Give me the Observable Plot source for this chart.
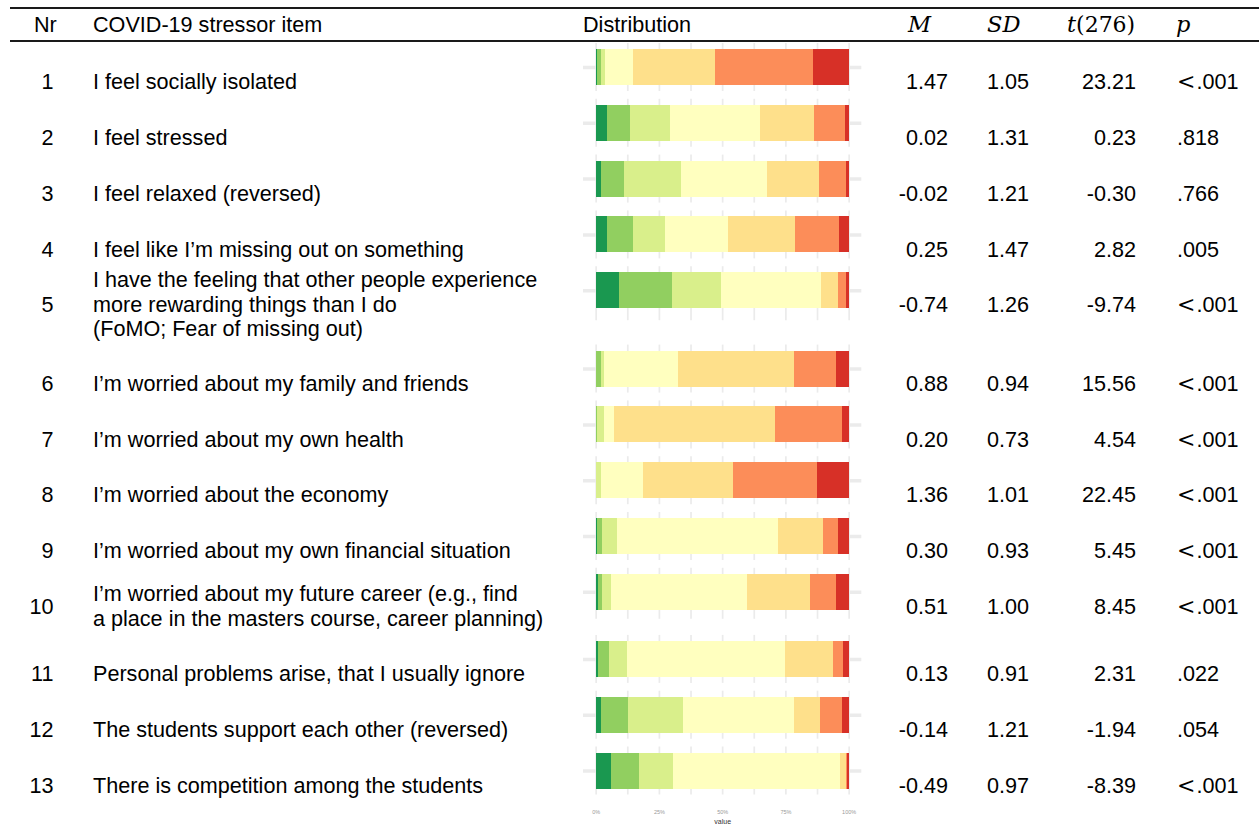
<!DOCTYPE html>
<html><head><meta charset="utf-8">
<script src="https://cdn.jsdelivr.net/npm/d3@7"></script>
<script src="https://cdn.jsdelivr.net/npm/@observablehq/plot@0.6"></script>
<style>
body{margin:0;background:#fff;}
#page{position:relative;width:1259px;height:824px;overflow:hidden;font-family:"Liberation Sans",Arial,sans-serif;font-size:21.6px;color:#000;}
.t{position:absolute;white-space:nowrap;line-height:21.6px;height:21.6px;}
.ml{position:absolute;white-space:pre;line-height:24.5px;}
.rule{position:absolute;left:10px;width:1249px;background:#1a1a1a;}
.math{font-family:"DejaVu Serif",serif;font-style:italic;font-size:22.5px;}
.rm{font-family:"DejaVu Serif",serif;font-style:normal;font-size:22px;}
.lt{font-family:"DejaVu Serif",serif;font-size:22px;margin-right:1px;}
#chart{position:absolute;left:576px;top:0;}
</style></head><body><div id="page"><div id="chart"></div></div>
<script>
// ---------- data ----------
const itemNr = [1,2,3,4,5,6,7,8,9,10,11,12,13];
const items = [
  "I feel socially isolated",
  "I feel stressed",
  "I feel relaxed (reversed)",
  "I feel like I\u2019m missing out on something",
  "I have the feeling that other people experience\nmore rewarding things than I do\n(FoMO; Fear of missing out)",
  "I\u2019m worried about my family and friends",
  "I\u2019m worried about my own health",
  "I\u2019m worried about the economy",
  "I\u2019m worried about my own financial situation",
  "I\u2019m worried about my future career (e.g., find\na place in the masters course, career planning)",
  "Personal problems arise, that I usually ignore",
  "The students support each other (reversed)",
  "There is competition among the students"
];
const meanM = [1.47,0.02,-0.02,0.25,-0.74,0.88,0.20,1.36,0.30,0.51,0.13,-0.14,-0.49];
const sdSD  = [1.05,1.31,1.21,1.47,1.26,0.94,0.73,1.01,0.93,1.00,0.91,1.21,0.97];
const tVal  = [23.21,0.23,-0.30,2.82,-9.74,15.56,4.54,22.45,5.45,8.45,2.31,-1.94,-8.39];
const pVal  = ["<.001",".818",".766",".005","<.001","<.001","<.001","<.001","<.001","<.001",".022",".054","<.001"];
// response levels (green -> red)
const levels = ["-3","-2","-1","0","1","2","3"];
const levelColors = ["#1a9850","#91cf60","#d9ef8b","#ffffbf","#fee08b","#fc8d59","#d73027"];
// percentage of answers per level, per item
const dist = [
  [0.4, 1.6, 1.6, 11.1, 32.4, 38.7, 14.2],
  [4.3, 9.1, 15.8, 35.6, 21.7, 11.9, 1.6],
  [2.0, 9.1, 22.5, 34.0, 20.6, 10.7, 1.2],
  [4.3, 10.3, 13.0, 24.9, 26.1, 17.4, 4.0],
  [9.1, 20.9, 19.4, 39.5, 6.7, 3.2, 1.2],
  [0.3, 1.7, 1.2, 29.2, 45.8, 16.6, 5.1],
  [0.0, 0.7, 2.5, 4.0, 63.6, 26.5, 2.8],
  [0.3, 0.0, 1.7, 16.6, 35.6, 33.2, 12.6],
  [0.4, 2.0, 5.9, 63.6, 17.8, 5.9, 4.3],
  [0.8, 1.6, 3.6, 53.8, 24.9, 10.3, 5.1],
  [0.8, 4.3, 7.5, 62.5, 19.0, 3.6, 2.4],
  [2.0, 10.7, 21.7, 43.9, 10.3, 8.7, 2.8],
  [5.9, 11.1, 13.4, 66.0, 2.4, 0.4, 0.8]
];
const axisTicks = [0, 0.25, 0.5, 0.75, 1];
const axisTickLabels = ["0%","25%","50%","75%","100%"];
const axisLabel = "value";

// ---------- layout ----------
const page = document.getElementById("page");
const lines = items.map(s => s.split("\n").length);
const cy = [];
items.forEach((_, i) => { cy.push(i === 0 ? 80 : cy[i-1] + 55.8 + 11.3 * (lines[i-1] - 1)); });

function addRule(top, h){ const d=document.createElement("div"); d.className="rule"; d.style.top=top+"px"; d.style.height=h+"px"; page.appendChild(d); }
addRule(7.2, 1.8);
addRule(40.2, 1.8);

function txt(html, x, y, align, cls){
  const d = document.createElement("div");
  d.className = cls || "t";
  d.innerHTML = html;
  if (align === "right") d.style.right = (1259 - x) + "px"; else d.style.left = x + "px";
  d.style.top = y + "px";
  page.appendChild(d);
  return d;
}
const fs = 21.6;
const tOff = 2; // text baseline shift
// header
const hy = 23 - fs/2 + tOff;
txt("Nr", 34, hy);
txt("COVID-19 stressor item", 93, hy);
txt("Distribution", 583, hy);
txt('<span class="math">M</span>', 908, hy);
txt('<span class="math">SD</span>', 987, hy);
txt('<span class="math">t</span><span class="rm">(276)</span>', 1067, hy);
txt('<span class="math">p</span>', 1176, hy);

const esc = s => s.replace(/&/g,"&amp;").replace(/</g,"&lt;");
items.forEach((item, i) => {
  const y = cy[i] + tOff;
  txt(String(itemNr[i]), 53.5, y - fs/2, "right");
  if (lines[i] === 1) txt(esc(item), 93, y - fs/2);
  else txt(esc(item), 93, y - lines[i]*24.5/2, "left", "ml");
  txt(meanM[i].toFixed(2), 948, y - fs/2, "right");
  txt(sdSD[i].toFixed(2), 1029, y - fs/2, "right");
  txt(tVal[i].toFixed(2), 1136, y - fs/2, "right");
  const p = pVal[i].startsWith("<") ? '<span class="lt">&lt;</span>' + pVal[i].slice(1) : pVal[i];
  txt(p, 1177, y - fs/2);
});

// ---------- chart (Observable Plot) ----------
const rows = items.map((item, i) => {
  const c = cy[i] - 13;
  return {i, c, top: c - 18, bottom: c + 18, pTop: c - 24, pBottom: c + 24 + 3*(lines[i]-1)};
});
const segs = [];
dist.forEach((vals, i) => {
  const tot = d3.sum(vals);
  let acc = 0;
  vals.forEach((v, k) => {
    segs.push({item: items[i], level: levels[k], x1: acc/tot, x2: (acc+v)/tot, y1: rows[i].top, y2: rows[i].bottom});
    acc += v;
  });
});
const gridX = d3.range(0, 1.0001, 0.125);
const grid = [];
rows.forEach(r => gridX.forEach(g => grid.push({x: g, y1: r.pTop, y2: r.pBottom})));
const lastBottom = rows[rows.length-1].pBottom;
const tickData = axisTicks.map((t, k) => ({x: t, label: axisTickLabels[k]}));

const W = 294, H = 824;
const chart = Plot.plot({
  width: W, height: H,
  margin: 0,
  x: {domain: [-0.05, 1.05], range: [7, 285.3], axis: null},
  y: {domain: [0, H], range: [0, H], axis: null},
  color: {domain: levels, range: levelColors},
  style: {background: "transparent", overflow: "visible"},
  marks: [
    Plot.ruleX(grid, {x: "x", y1: "y1", y2: "y2", stroke: "#ebebeb", strokeWidth: 1.7}),
    Plot.ruleY(rows, {y: "c", x1: -0.05, x2: 1.05, stroke: "#ebebeb", strokeWidth: 3.5}),
    Plot.rect(segs, {x1: "x1", x2: "x2", y1: "y1", y2: "y2", fill: "level", shapeRendering: "crispEdges"}),
    Plot.text(tickData, {x: "x", y: () => lastBottom + 17.5, text: "label", fontSize: 5.5, fill: "#9a9a9a", fontFamily: "Liberation Sans, sans-serif"}),
    Plot.text([axisLabel], {x: () => 0.5, y: () => lastBottom + 26.5, text: d => d, fontSize: 7, fill: "#333", fontFamily: "Liberation Sans, sans-serif"})
  ]
});
document.getElementById("chart").appendChild(chart);
</script></body></html>
